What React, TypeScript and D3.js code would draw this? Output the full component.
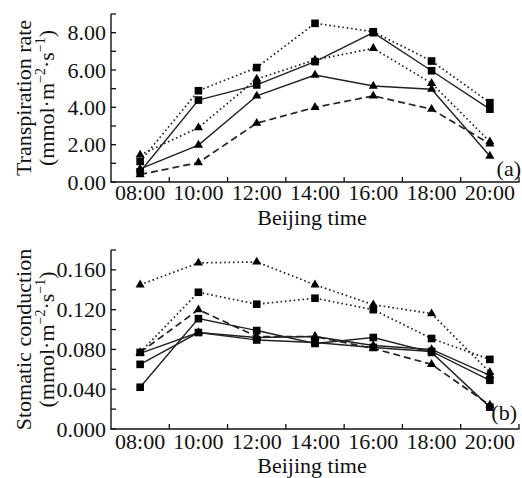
import React from "react";
import * as d3 from "d3";

const times = ["08:00", "10:00", "12:00", "14:00", "16:00", "18:00", "20:00"];

// Panel (a): transpiration rate
const trDottedSquare = [1.1, 4.89, 6.13, 8.5, 8.05, 6.48, 4.25];
const trSolidSquare = [0.55, 4.39, 5.2, 6.45, 8.0, 5.96, 3.9];
const trDottedTriangle = [1.45, 2.91, 5.52, 6.54, 7.16, 5.29, 2.16];
const trSolidTriangle = [0.7, 1.98, 4.61, 5.73, 5.14, 4.97, 1.39];
const trDashedTriangle = [0.4, 1.04, 3.15, 4.0, 4.61, 3.9, 2.04];
const trTicks = [0, 2, 4, 6, 8];

// Panel (b): stomatic conduction
const scDottedTriangle = [0.145, 0.167, 0.168, 0.145, 0.125, 0.116, 0.057];
const scDottedSquare = [0.077, 0.1375, 0.1255, 0.1315, 0.12, 0.091, 0.07];
const scDashedTriangle = [0.077, 0.12, 0.093, 0.093, 0.081, 0.065, 0.024];
const scSolidSquareA = [0.042, 0.111, 0.099, 0.086, 0.092, 0.077, 0.022];
const scSolidTriangle = [0.076, 0.097, 0.092, 0.093, 0.084, 0.08, 0.054];
const scSolidSquareB = [0.065, 0.097, 0.0895, 0.087, 0.082, 0.078, 0.049];
const scTicks = [0, 0.04, 0.08, 0.12, 0.16];

type Style = "solid" | "dotted" | "dashed";
type Marker = "square" | "triangle";
interface Series { values: number[]; style: Style; marker: Marker }

const panelA: Series[] = [
  { values: trDottedSquare, style: "dotted", marker: "square" },
  { values: trSolidSquare, style: "solid", marker: "square" },
  { values: trDottedTriangle, style: "dotted", marker: "triangle" },
  { values: trSolidTriangle, style: "solid", marker: "triangle" },
  { values: trDashedTriangle, style: "dashed", marker: "triangle" },
];
const panelB: Series[] = [
  { values: scDottedTriangle, style: "dotted", marker: "triangle" },
  { values: scDottedSquare, style: "dotted", marker: "square" },
  { values: scDashedTriangle, style: "dashed", marker: "triangle" },
  { values: scSolidSquareA, style: "solid", marker: "square" },
  { values: scSolidTriangle, style: "solid", marker: "triangle" },
  { values: scSolidSquareB, style: "solid", marker: "square" },
];

const FONT = "Liberation Serif, Times New Roman, Times, serif";
const INK = "#111";
const txt = { fontFamily: FONT, fontSize: "22px" } as React.CSSProperties;

const dashFor = (s: Style) =>
  s === "dotted" ? "1.6 2.8" : s === "dashed" ? "7 4" : undefined;

interface PanelProps {
  series: Series[];
  yMax: number;
  yBottom: number;
  yTop: number;
  minorStep: number;
  ticks: number[];
  fmt: (v: number) => string;
  xLabelBaseline: number;
  xTitleBaseline: number;
  title: string;
  tag: string;
  tagX: number;
  tagY: number;
}

const x = d3.scaleBand<string>().domain(times).range([111, 519]).padding(0);

function Panel(p: PanelProps) {
  const y = d3.scaleLinear().domain([0, p.yMax]).range([p.yBottom, p.yTop]);
  const minor = d3.range(0, p.yMax + p.minorStep / 2, p.minorStep);
  const line = d3
    .line<number>()
    .x((_, i) => (x(times[i]) as number) + x.bandwidth() / 2)
    .y((v) => y(v));
  const tri = d3.symbol(d3.symbolTriangle, 36)() as string;
  const boundaries = times.map((t) => (x(t) as number) + x.bandwidth());
  const cy = (p.yBottom + p.yTop) / 2;
  return (
    <g>
      <line x1={111} x2={111} y1={p.yTop} y2={p.yBottom} stroke={INK} strokeWidth={1.4} />
      <line x1={110.3} x2={519.5} y1={p.yBottom} y2={p.yBottom} stroke={INK} strokeWidth={1.4} />
      {minor.map((v, i) => (
        <line key={"yt" + i} x1={111} x2={116} y1={y(v)} y2={y(v)} stroke={INK} strokeWidth={1.3} />
      ))}
      {boundaries.map((bx, i) => (
        <line key={"xt" + i} x1={bx} x2={bx} y1={p.yBottom} y2={p.yBottom - 5} stroke={INK} strokeWidth={1.3} />
      ))}
      {p.ticks.map((v, i) => (
        <text key={"yl" + i} x={106} y={y(v) + 7.5} textAnchor="end" style={txt} fill={INK}>
          {p.fmt(v)}
        </text>
      ))}
      {times.map((t) => (
        <text key={"xl" + t} x={(x(t) as number) + x.bandwidth() / 2} y={p.xLabelBaseline} textAnchor="middle" style={txt} fill={INK}>
          {t}
        </text>
      ))}
      <text x={312} y={p.xTitleBaseline} textAnchor="middle" style={txt} fill={INK}>
        Beijing time
      </text>
      <text transform={`translate(31,${cy}) rotate(-90)`} textAnchor="middle" style={txt} fill={INK}>
        {p.title}
      </text>
      <text transform={`translate(54,${cy}) rotate(-90)`} textAnchor="middle" style={txt} fill={INK}>
        (mmol·m<tspan style={{ fontSize: "14px" }} dy={-9}>−2</tspan>
        <tspan dy={9}>·s</tspan>
        <tspan style={{ fontSize: "14px" }} dy={-9}>−1</tspan>
        <tspan dy={9}>)</tspan>
      </text>
      <text x={p.tagX} y={p.tagY} textAnchor="end" style={txt} fill={INK}>
        {p.tag}
      </text>
      {p.series.map((s, i) => (
        <path
          key={"l" + i}
          d={line(s.values) as string}
          fill="none"
          stroke="#222"
          strokeWidth={s.style === "solid" ? 1.4 : 1.7}
          strokeDasharray={dashFor(s.style)}
        />
      ))}
      {p.series.map((s, i) =>
        s.values.map((v, j) => {
          const px = (x(times[j]) as number) + x.bandwidth() / 2;
          const py = y(v);
          return s.marker === "square" ? (
            <rect key={`m${i}-${j}`} x={px - 3.8} y={py - 3.8} width={7.6} height={7.6} fill="#000" />
          ) : (
            <path key={`m${i}-${j}`} d={tri} transform={`translate(${px},${py})`} fill="#000" />
          );
        })
      )}
    </g>
  );
}

export default function App() {
  return (
    <svg width={522} height={478} style={{ position: "absolute", left: 0, top: 0, background: "#fff" }}>
      <rect width={522} height={478} fill="#fff" />
      <Panel
        series={panelA}
        yMax={9}
        yBottom={182}
        yTop={14}
        minorStep={1}
        ticks={trTicks}
        fmt={(v) => v.toFixed(2)}
        xLabelBaseline={200}
        xTitleBaseline={225}
        title="Transpiration rate"
        tag="(a)"
        tagX={521}
        tagY={176}
      />
      <Panel
        series={panelB}
        yMax={0.18}
        yBottom={429}
        yTop={250}
        minorStep={0.02}
        ticks={scTicks}
        fmt={(v) => v.toFixed(3)}
        xLabelBaseline={449}
        xTitleBaseline={473}
        title="Stomatic conduction"
        tag="(b)"
        tagX={517}
        tagY={420}
      />
    </svg>
  );
}
